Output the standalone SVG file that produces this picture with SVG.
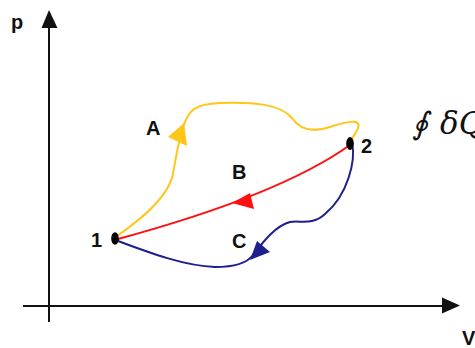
<svg xmlns="http://www.w3.org/2000/svg" width="475" height="348" viewBox="0 0 475 348">
<style>
.lbl{font-family:"Liberation Sans",Arial,sans-serif;font-weight:bold;font-size:20px;fill:#111}
.axis{stroke:#111;stroke-width:2;fill:none}
.path{fill:none;stroke-width:2;stroke-linecap:round}
</style>
<rect width="475" height="348" fill="#fff"/>
<g id="axes">
<line class="axis" x1="49" y1="322" x2="49" y2="24"/>
<polygon points="49,10 41.5,28 57.5,28" fill="#111"/>
<line class="axis" x1="23" y1="306" x2="446" y2="306"/>
<polygon points="460,305.5 442,297.5 442,313.5" fill="#111"/>
<text class="lbl" x="11" y="29" font-size="22">p</text>
<text class="lbl" x="462" y="345" font-size="22">V</text>
</g>
<g id="connectors">
<path class="path" stroke="#FFC61A" d="M117,236 C140,220 165,200 172,178 C176,160 178,140 183,128 C188,110 195,104 220,103 C255,102 280,104 292,118 C300,130 312,133 330,127 C345,122 362,118 358,128 C356,134 352,138 350,142"/>
<polygon points="184,123 168,137 187,146" fill="#FFC61A"/>
<path class="path" stroke="#FF1010" d="M350,145 Q280,195 118,239"/>
<polygon points="232,203 250,193 254,209" fill="#FF1010"/>
<path class="path" stroke="#1E1E8F" d="M352,143 C356,160 348,195 325,214 C312,226 300,220 290,222 C275,226 263,242 253,255 C248,262 235,267 215,267 C185,266 150,253 118,241"/>
<polygon points="250,260 257,241 270,252" fill="#1E1E8F"/>
</g>
<g id="node1">
<ellipse cx="115" cy="238.5" rx="3.8" ry="6.2" fill="#000"/>
<text class="lbl" x="91" y="247">1</text>
</g>
<g id="node2">
<ellipse cx="350" cy="143.5" rx="3.8" ry="6.5" fill="#000"/>
<text class="lbl" x="361" y="153">2</text>
</g>
<g id="labelA"><text class="lbl" x="146" y="135">A</text></g>
<g id="labelB"><text class="lbl" x="232" y="179">B</text></g>
<g id="labelC"><text class="lbl" x="232" y="248">C</text></g>
<g id="equation">
<text y="134" font-family="'DejaVu Serif','Liberation Serif',serif" font-style="italic" font-size="31" fill="#111"><tspan x="412">∮</tspan><tspan x="440">δQ</tspan></text>
</g>
</svg>
